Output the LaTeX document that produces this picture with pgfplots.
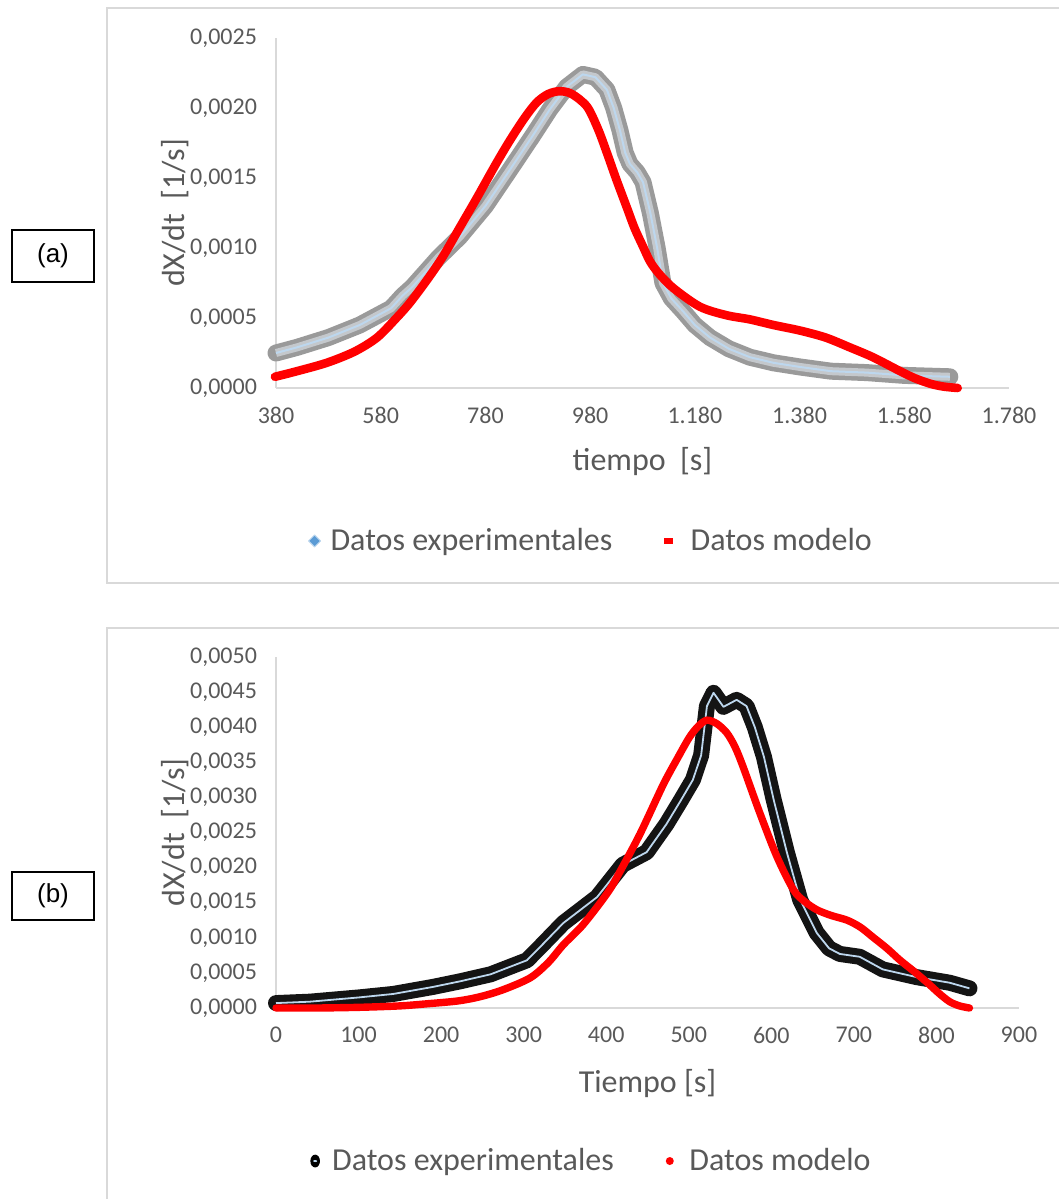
\documentclass[border=0pt]{standalone}
\usepackage{pgfplots}
\usepackage{pgfplotstable}
\pgfplotsset{compat=1.18}
\usepackage{fontspec}
\setmainfont{Carlito}
\newfontfamily\arialfont{Liberation Sans}
\definecolor{txt}{HTML}{595959}
\definecolor{axl}{HTML}{D9D9D9}
\definecolor{lblue}{HTML}{BDD7EE}
\definecolor{mblue}{HTML}{5B9BD5}
\definecolor{gband}{HTML}{9A9A9A}
\definecolor{gcore}{HTML}{C4C8CC}
\definecolor{xred}{HTML}{FF0000}

\pgfplotstableread{
x y
380 0.00025
420 0.00029
480 0.00036
540 0.00045
600 0.00057
622 0.00066
640 0.00072
690 0.00093
731 0.00108
780 0.00130
827 0.00156
870 0.00180
903 0.00199
935 0.00215
966 0.00224
990 0.00222
1012 0.00213
1025 0.00200
1037 0.00184
1047 0.00168
1056 0.00160
1070 0.00154
1081 0.00147
1095 0.00125
1108 0.00100
1119 0.00075
1135 0.00064
1157 0.00055
1180 0.00045
1209 0.00036
1245 0.00028
1285 0.00022
1330 0.00018
1381 0.00015
1440 0.00012
1508 0.00011
1580 0.00009
1667 0.00008
}\expA

\pgfplotstableread{
x y
378 0.00008
420 0.00012
477 0.00018
530 0.00026
573 0.00036
610 0.00050
636 0.00061
670 0.00078
699 0.00094
730 0.00114
764 0.00136
800 0.00160
827 0.00177
855 0.00193
878 0.00204
900 0.00210
922 0.00212
945 0.00210
974 0.00201
995 0.00185
1012 0.00168
1030 0.00149
1050 0.00129
1065 0.00114
1081 0.00101
1095 0.00090
1113 0.00081
1140 0.00071
1190 0.00058
1240 0.00052
1285 0.00049
1330 0.00045
1381 0.00041
1430 0.00036
1476 0.00029
1520 0.00022
1572 0.00012
1600 0.00007
1630 0.00003
1655 0.00001
1682 0.00000
}\modA

\pgfplotstableread{
x y
0 0.00007
41 0.00009
100 0.00015
142 0.00020
190 0.00030
223 0.00038
260 0.00048
304 0.00068
320 0.00087
348 0.00121
389 0.00158
420 0.00204
449 0.00222
473 0.00262
490 0.00295
505 0.00325
515 0.00360
522 0.00430
530 0.00449
542 0.00429
558 0.00439
570 0.00430
580 0.00400
591 0.00358
603 0.00296
619 0.00221
635 0.00154
655 0.00107
670 0.00085
683 0.00077
707 0.00073
735 0.00055
776 0.00044
816 0.00036
840 0.00028
}\expB

\pgfplotstableread{
x y
0 0.00000
50 0.00000
102 0.00001
150 0.00003
183 0.00006
220 0.00010
247 0.00016
275 0.00026
308 0.00043
330 0.00065
348 0.00090
370 0.00116
389 0.00144
405 0.00170
417 0.00195
441 0.00248
469 0.00318
486 0.00355
501 0.00386
512 0.00402
522 0.00410
534 0.00405
546 0.00392
556 0.00372
566 0.00343
586 0.00278
607 0.00215
627 0.00168
640 0.00152
655 0.00140
672 0.00132
692 0.00125
708 0.00115
723 0.00101
740 0.00085
756 0.00068
773 0.00052
789 0.00036
803 0.00021
816 0.00009
828 0.00003
840 0.00000
}\modB

\pgfplotsset{mystyle/.style={
  scale only axis,
  axis x line*=bottom, axis y line*=left,
  axis line style={axl, line width=0.8pt},
  major tick length=0pt,
  tick style={draw=none},
  scaled y ticks=false, scaled x ticks=false,
  ticklabel style={font=\fontsize{12}{14}\selectfont, text=txt},
  yticklabel style={xshift=-6pt},
  xticklabel style={yshift=-6pt},
  /pgf/number format/assume math mode=true,
  label style={font=\fontsize{16}{19}\selectfont, text=txt},
  legend style={draw=none, fill=none, font=\fontsize{16}{19}\selectfont, text=txt,
    /tikz/every even column/.append style={column sep=24pt}},
  legend columns=2,
  legend cell align=left,
  clip=false,
}}

\begin{document}
\begin{tikzpicture}
\useasboundingbox (0,0) rectangle (529.5pt,599.5pt);
% frames
\draw[axl, line width=0.8pt] (540pt,595.5pt) -- (53.5pt,595.5pt) -- (53.5pt,308pt) -- (540pt,308pt);
\draw[axl, line width=0.8pt] (540pt,285.5pt) -- (53.5pt,285.5pt) -- (53.5pt,-10pt);
% panel labels
\draw[black, line width=0.6pt] (6pt,458.5pt) rectangle (47pt,484.5pt);
\node[font=\arialfont\fontsize{13}{15}\selectfont] at (26.5pt,471.5pt) {(a)};
\draw[black, line width=0.6pt] (6pt,139.5pt) rectangle (47pt,163.5pt);
\node[font=\arialfont\fontsize{13}{15}\selectfont] at (26.5pt,151.5pt) {(b)};

\begin{axis}[mystyle,
  at={(138pt,405.5pt)}, anchor=south west,
  width=366.5pt, height=175pt,
  xmin=380, xmax=1780, ymin=0, ymax=0.0025,
  xtick={380,580,780,980,1180,1380,1580,1780},
  xticklabels={380,580,780,980,{1.180},{1.380},{1.580},{1.780}},
  ytick={0,0.0005,0.001,0.0015,0.002,0.0025},
  yticklabels={{0,0000},{0,0005},{0,0010},{0,0015},{0,0020},{0,0025}},
  xlabel={tiempo\ \ [s]}, ylabel={dX/dt\ \ [1/s]},
  x label style={at={(axis description cs:0.5,-0.211)}, anchor=center},
  y label style={at={(axis description cs:-0.138,0.5)}, anchor=center},
  legend style={at={(axis description cs:0.431,-0.437)}, anchor=center},
]
\addplot[gband, line width=8.5pt, line join=round, line cap=round, forget plot] table[x=x,y=y] {\expA};
\addplot[gcore, line width=4pt, line join=round, forget plot] table[x=x,y=y] {\expA};
\addplot[lblue, line width=1pt, line join=round,
  legend image code/.code={\path[fill=mblue,draw=lblue,line width=0.5pt] (0,0) +(-3pt,0) -- +(0,3pt) -- +(3pt,0) -- +(0,-3pt) -- cycle; \path (0.6em,0);}]
  table[x=x,y=y] {\expA};
\addlegendentry{Datos experimentales}
\addplot[xred, line width=4.3pt, smooth, line cap=round,
  legend image code/.code={\path[fill=xred,draw=none] (-0.25em,-1.4pt) rectangle (0.2em,1.4pt); \path (0.6em,0);}]
  table[x=x,y=y] {\modA};
\addlegendentry{Datos modelo}
\end{axis}

\begin{axis}[mystyle,
  at={(138pt,95.5pt)}, anchor=south west,
  width=371.5pt, height=175.5pt,
  xmin=0, xmax=900, ymin=0, ymax=0.005,
  xtick={0,100,...,900},
  xticklabels={0,100,200,300,400,500,600,700,800,900},
  ytick={0,0.0005,0.001,0.0015,0.002,0.0025,0.003,0.0035,0.004,0.0045,0.005},
  yticklabels={{0,0000},{0,0005},{0,0010},{0,0015},{0,0020},{0,0025},{0,0030},{0,0035},{0,0040},{0,0045},{0,0050}},
  xlabel={Tiempo [s]}, ylabel={dX/dt\ \ [1/s]},
  x label style={at={(axis description cs:0.5,-0.214)}, anchor=center},
  y label style={at={(axis description cs:-0.136,0.5)}, anchor=center},
  legend style={at={(axis description cs:0.426,-0.436)}, anchor=center},
]
\addplot[black!92, line width=8pt, line join=round, line cap=round, forget plot] table[x=x,y=y] {\expB};
\addplot[lblue, line width=0.9pt, line join=round,
  legend image code/.code={\path[fill=black,draw=none] (0,0) ellipse (2.4pt and 3.2pt); \path[fill=lblue,draw=none] (0,0) ellipse (1pt and 0.5pt); \path (0.6em,0);}]
  table[x=x,y=y] {\expB};
\addlegendentry{Datos experimentales}
\addplot[xred, line width=3.7pt, smooth, line cap=round,
  legend image code/.code={\path[fill=xred,draw=none] (0,0) circle (2pt); \path (0.6em,0);}]
  table[x=x,y=y] {\modB};
\addlegendentry{Datos modelo}
\end{axis}
\end{tikzpicture}
\end{document}
